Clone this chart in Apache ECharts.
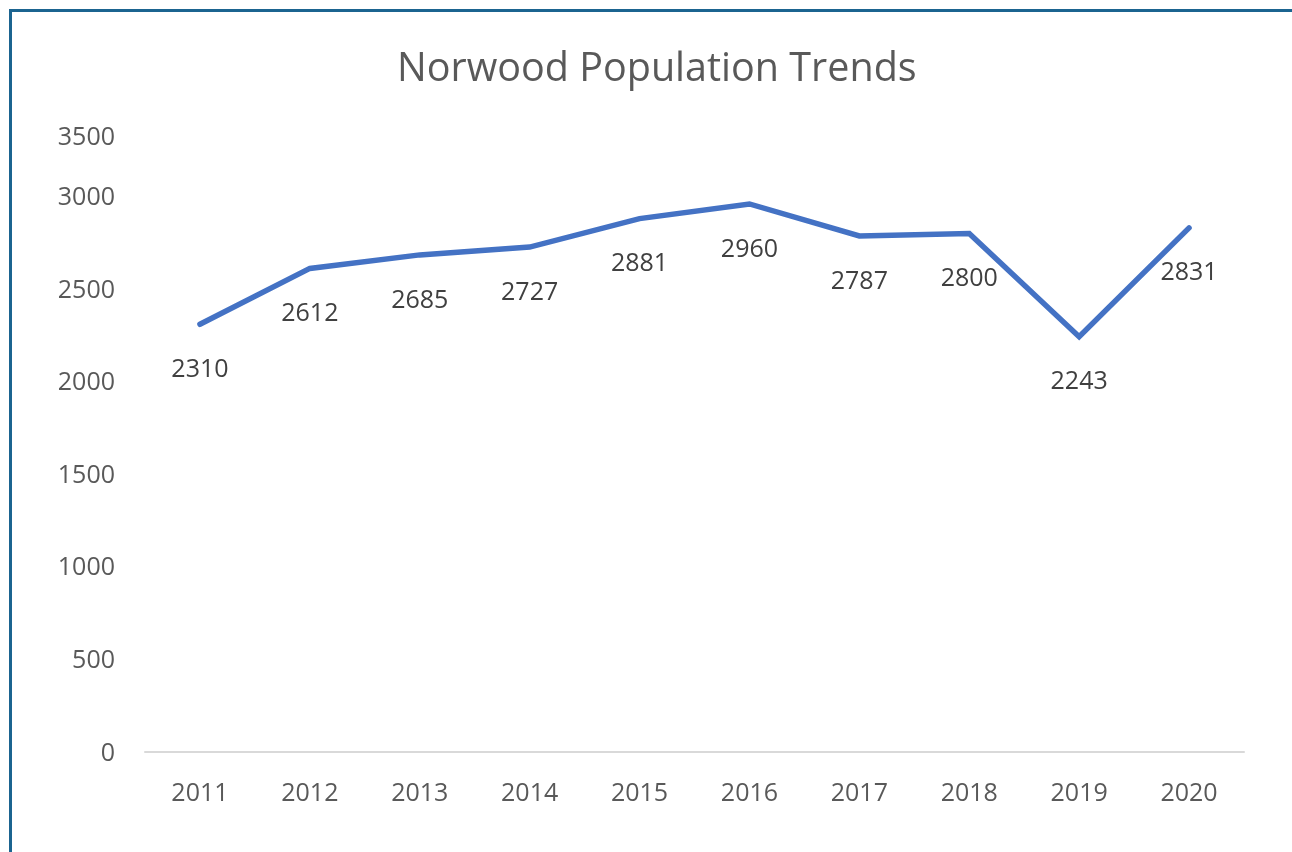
<!DOCTYPE html>
<html>
<head>
<meta charset="utf-8">
<script src="https://cdn.jsdelivr.net/npm/echarts@6/dist/echarts.min.js"></script>
<style>
  html, body { margin: 0; padding: 0; background: #ffffff; }
  #frame {
    position: absolute; left: 9px; top: 9px; right: 0; bottom: 0;
    border-left: 3px solid #1b6490; border-top: 3px solid #1b6490;
  }
  #chart { position: absolute; left: 0; top: 0; width: 1292px; height: 852px; }
</style>
</head>
<body>
<div id="frame"></div>
<div id="chart"></div>
<script>
const years = ['2011', '2012', '2013', '2014', '2015', '2016', '2017', '2018', '2019', '2020'];
const population = [2310, 2612, 2685, 2727, 2881, 2960, 2787, 2800, 2243, 2831];
const yTicks = [0, 500, 1000, 1500, 2000, 2500, 3000, 3500];

const FONT = '"Open Sans", sans-serif';
const TEXT = '#595959';
const SIZE = 25;

const chart = echarts.init(document.getElementById('chart'), null, { renderer: 'canvas' });
chart.setOption({
  backgroundColor: 'transparent',
  animation: false,
  title: {
    text: 'Norwood Population Trends',
    left: 392,
    top: 45,
    textStyle: { fontFamily: FONT, fontSize: 39.5, fontWeight: 'normal', color: TEXT }
  },
  grid: { left: 145, right: 48, top: 104, bottom: 100, containLabel: false },
  xAxis: {
    type: 'category',
    data: years,
    boundaryGap: true,
    axisLine: { show: true, lineStyle: { color: '#d9d9d9', width: 2 } },
    axisTick: { show: false },
    axisLabel: { fontFamily: FONT, fontSize: SIZE, color: TEXT, margin: 29 }
  },
  yAxis: {
    type: 'value',
    min: yTicks[0],
    max: yTicks[yTicks.length - 1],
    interval: 500,
    axisLine: { show: false },
    axisTick: { show: false },
    splitLine: { show: false },
    axisLabel: {
      fontFamily: FONT, fontSize: SIZE, color: TEXT, margin: 30,
      padding: [3, 0, 0, 0],
      formatter: v => (v === 3500 ? '{top|' + v + '}' : String(v)),
      rich: { top: { fontFamily: FONT, fontSize: SIZE, color: TEXT, padding: [64, 0, 0, 0] } }
    }
  },
  series: [{
    type: 'line',
    data: population,
    symbol: 'circle',
    symbolSize: 0,
    showSymbol: true,
    itemStyle: { color: '#4472c4' },
    lineStyle: { color: '#4472c4', width: 5.5, cap: 'round', join: 'miter' },
    label: {
      show: true,
      position: 'bottom',
      distance: 33,
      fontFamily: FONT, fontSize: SIZE, color: '#404040'
    }
  }]
});
</script>
</body>
</html>
